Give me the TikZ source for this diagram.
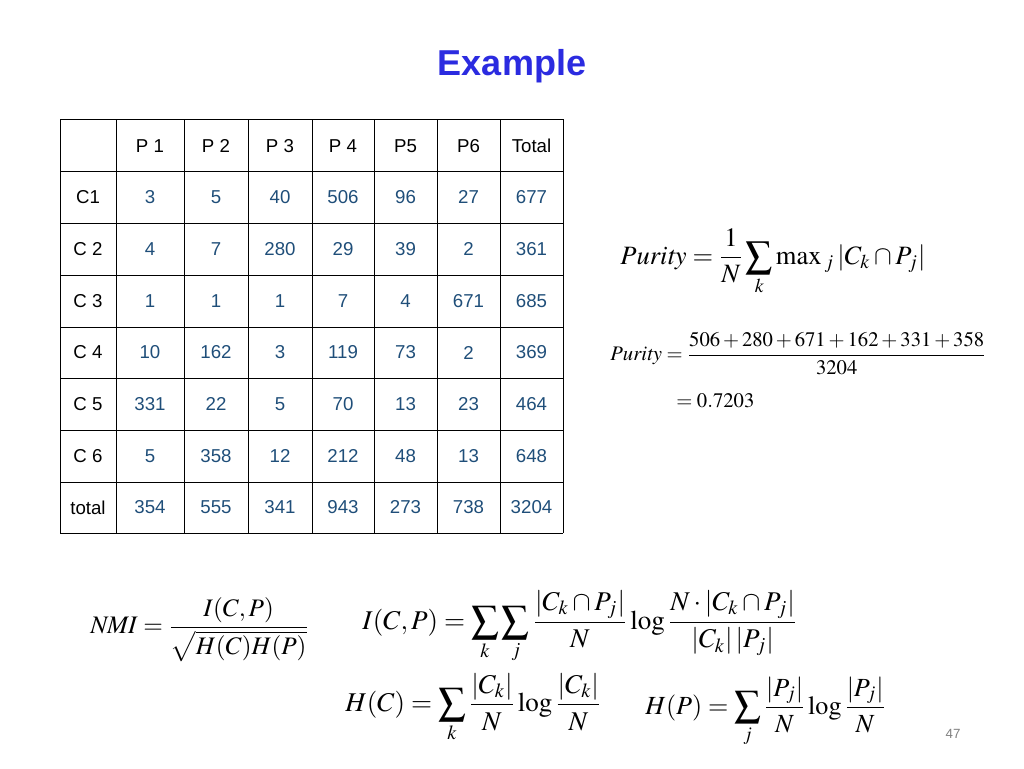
\documentclass[tikz,border=0pt]{standalone}
\usepackage{mathptmx}
\usepackage{fontspec}
\setsansfont{Liberation Sans}
\usepackage{amsmath}
\definecolor{numblue}{HTML}{1F4E79}
\definecolor{titleblue}{HTML}{2B2BE0}
\begin{document}
\begin{tikzpicture}[x=0.75pt,y=-0.75pt,
  cell/.style={font=\sffamily\fontsize{14}{16}\selectfont},
  num/.style={cell,text=numblue},
  eq/.style={inner sep=0pt,font=\fontsize{14}{16}\selectfont}]
\useasboundingbox (0,0) rectangle (1024,768);
\node[font=\sffamily\bfseries\fontsize{27}{30}\selectfont,text=titleblue] (title) at (512,66) {Example};
\foreach \xx in {60,116,184,248,312,374,437,500,563}
  \draw[semithick] (\xx,119) -- (\xx,533);
\foreach \yy in {119,171,223,275,327,378,430,482,533}
  \draw[semithick] (60,\yy) -- (563,\yy);
\foreach \t/\xa [count=\c from 1] in {P 1/150,P 2/216,P 3/280,P 4/343,P5/405.5,P6/468.5,Total/531.5}
  \node[cell] (h\c) at (\xa,146) {\t};
\foreach \r/\l/\ya [count=\k from 1] in {{3,5,40,506,96,27,677}/C1/197,{4,7,280,29,39,2,361}/C 2/249,{1,1,1,7,4,671,685}/C 3/301,{10,162,3,119,73,2,369}/C 4/352.5,{331,22,5,70,13,23,464}/C 5/404,{5,358,12,212,48,13,648}/C 6/456,{354,555,341,943,273,738,3204}/total/507.5}{
  \node[cell] (r\k) at (88,\ya) {\l};
  \foreach \v/\xa [count=\c from 1] in \r {
    \pgfmathsetmacro\xb{{150,216,280,343,405.5,468.5,531.5}[\c-1]}
    \node[num] (v\k\c) at (\xb,\ya) {\v};}
}
\node[eq,anchor=west,scale=1.42] (pur) at (620,262) {$\displaystyle \mathit{Purity}=\frac{1}{N}\sum_k \max{}_j\,|C_k\cap P_j|$};
\node[eq,anchor=west,font=\fontsize{12.5}{14}\selectfont,scale=1.24] (pur2) at (610,354) {$\displaystyle \mathit{Purity}=\frac{506+280+671+162+331+358}{3204}$};
\node[eq,anchor=west,font=\fontsize{12.5}{14}\selectfont,scale=1.24] (pur3) at (676,401) {$=0.7203$};
\node[eq,anchor=west,scale=1.35] (nmi) at (90,630) {$\displaystyle \mathit{NMI}=\frac{I(C,P)}{\sqrt{H(C)H(P)}}$};
\node[eq,anchor=west,scale=1.45] (icp) at (362,627) {$\displaystyle I(C,P)=\sum_k\sum_j\frac{|C_k\cap P_j|}{N}\log\frac{N\cdot|C_k\cap P_j|}{|C_k|\,|P_j|}$};
\node[eq,anchor=west,scale=1.45] (hc) at (345,708) {$\displaystyle H(C)=\sum_k\frac{|C_k|}{N}\log\frac{|C_k|}{N}$};
\node[eq,anchor=west,scale=1.4] (hp) at (645,712) {$\displaystyle H(P)=\sum_j\frac{|P_j|}{N}\log\frac{|P_j|}{N}$};
\node[font=\sffamily\fontsize{10}{12}\selectfont,text=gray] (pg) at (953,734) {47};
\end{tikzpicture}
\end{document}
